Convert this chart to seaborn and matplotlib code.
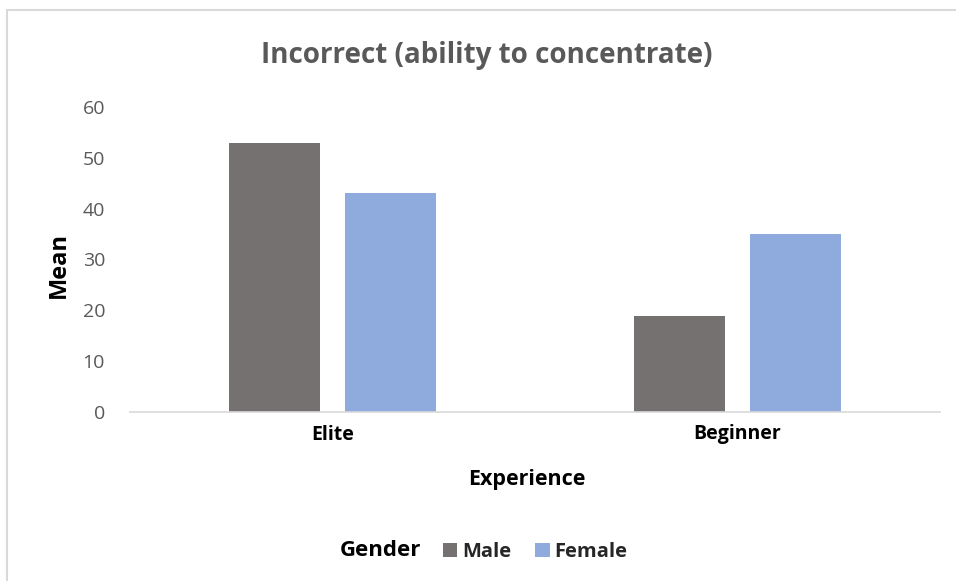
import pandas as pd
import seaborn as sns
import matplotlib.pyplot as plt
from matplotlib.patches import Rectangle

# ─── Data ─────────────────────────────────────────────────────────────
experience  = ["Elite", "Beginner"]
genders     = ["Male", "Female"]
male_mean   = [52.9, 18.9]
female_mean = [43.1, 35.0]
y_ticks     = [0, 10, 20, 30, 40, 50, 60]

df = pd.DataFrame({
    "Experience": experience * 2,
    "Gender":     ["Male"] * 2 + ["Female"] * 2,
    "Mean":       male_mean + female_mean,
})

palette = {"Male": "#767171", "Female": "#8FAADC"}

W, H = 956, 581

# ─── Plot ─────────────────────────────────────────────────────────────
sns.set_theme(style="white")
plt.rcParams["font.family"] = ["Open Sans", "DejaVu Sans"]

fig = plt.figure(figsize=(W / 100, H / 100), dpi=100)
ax = fig.add_axes([130 / W, 1 - 412 / H, 810 / W, 305 / H])

sns.barplot(data=df, x="Experience", y="Mean", hue="Gender",
            order=experience, hue_order=genders, palette=palette,
            width=0.568, gap=0.209, saturation=1, linewidth=0, ax=ax)

ax.set_ylim(0, 60)
ax.set_yticks(y_ticks)
ax.tick_params(axis="y", labelsize=14, labelcolor="#595959", length=0, pad=18)
ax.tick_params(axis="x", labelsize=14, length=0, pad=9)
for lbl in ax.get_xticklabels():
    lbl.set_fontweight("bold")
    lbl.set_color("black")

for side in ["top", "right", "left"]:
    ax.spines[side].set_visible(False)
ax.spines["bottom"].set_color("#d9d9d9")
ax.spines["bottom"].set_linewidth(1.2)

ax.set_xlabel("")
ax.set_ylabel("")
fig.text(527 / W, 1 - 480 / H, "Experience", ha="center", va="center",
         fontsize=15.5, fontweight="bold", color="black")
fig.text(59 / W, 1 - 265 / H, "Mean", ha="center", va="center", rotation=90,
         fontsize=17, fontweight="bold", color="black")

fig.text(487 / W, 1 - 55 / H, "Incorrect (ability to concentrate)", ha="center",
         va="center", fontsize=20, fontweight="bold", color="#595959")

# legend below
sns.move_legend(ax, "center left", bbox_to_anchor=(443 / W, 1 - 552 / H),
                bbox_transform=fig.transFigure, ncol=2, title=None,
                frameon=False, fontsize=14.5, handlelength=0.7, handleheight=0.7,
                handletextpad=0.25, columnspacing=1.2, borderpad=0,
                borderaxespad=0)
for t in ax.get_legend().get_texts():
    t.set_fontweight("bold")
fig.text(421 / W, 1 - 551 / H, "Gender", ha="right", va="center",
         fontsize=16, fontweight="bold", color="black")

# outer chart frame (cropped on the right and bottom)
fig.patches.append(Rectangle((7 / W, -0.05), 1.2, 1 - 10 / H + 0.05,
                             transform=fig.transFigure, fill=False,
                             edgecolor="#d9d9d9", linewidth=1.5))

fig.savefig("out.png", dpi=100)
